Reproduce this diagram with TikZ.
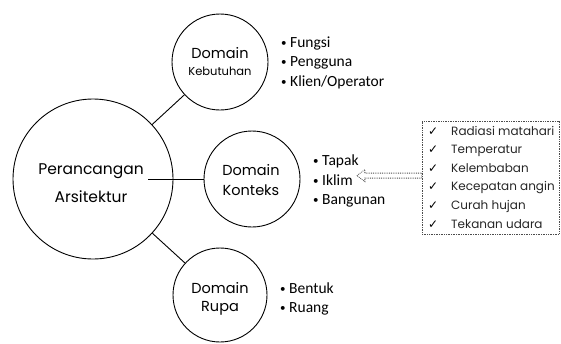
\documentclass[tikz,border=0pt]{standalone}
\usepackage{fontspec}
\setmainfont{Carlito}
\newfontfamily\hand{Poppins}
\newfontfamily\symf{DejaVu Sans}
\usetikzlibrary{calc}
\newcommand{\bul}{\makebox[9pt][l]{\raisebox{0.5pt}{\fontsize{11}{11}\selectfont •}}}
\begin{document}
\begin{tikzpicture}[x=1pt,y=-1pt,
  ring/.style={draw, circle, line width=0.9pt, inner sep=0pt},
  conn/.style={line width=0.9pt},
  htxt/.style={anchor=base, inner sep=0pt, font=\hand},
  btxt/.style={anchor=base west, inner sep=0pt, font=\fontsize{15.5}{18}\selectfont},
  ctxt/.style={anchor=base west, inner sep=0pt, font=\hand\fontsize{12}{14}\selectfont, text=black!85},
  cmark/.style={anchor=base west, inner sep=0pt, font=\symf\fontsize{12}{14}\selectfont},
  dotbox/.style={draw=black!70, densely dotted, line width=0.7pt},
]
\useasboundingbox (0,0) rectangle (561,343);
% circles
\node[ring, minimum size=160pt] (big) at (93,179) {};
\node[ring, minimum size=96pt] (keb) at (220,62) {};
\node[ring, minimum size=96pt] (kon) at (252,179) {};
\node[ring, minimum size=94pt] (rup) at (220,295) {};
% circle texts
\node[htxt, font=\hand\fontsize{15.5}{18}\selectfont] (t1) at (91,174) {Perancangan};
\node[htxt, font=\hand\fontsize{15.5}{18}\selectfont] (t2) at (91,202) {Arsitektur};
\node[htxt, font=\hand\fontsize{14.5}{17}\selectfont] (k1) at (220,58) {Domain};
\node[htxt, font=\hand\fontsize{11.5}{14}\selectfont] (k2) at (220,75) {Kebutuhan};
\node[htxt, font=\hand\fontsize{14.5}{17}\selectfont] (n1) at (251,175) {Domain};
\node[htxt, font=\hand\fontsize{14.5}{17}\selectfont] (n2) at (251,195) {Konteks};
\node[htxt, font=\hand\fontsize{14.5}{17}\selectfont] (r1) at (220,293) {Domain};
\node[htxt, font=\hand\fontsize{14.5}{17}\selectfont] (r2) at (220,311) {Rupa};
% connectors
\coordinate (kin) at (148,179);
\draw[conn] (big) -- (keb);
\draw[conn] (kin) -- (kon.west);
\draw[conn] (big) -- (rup);
% bullet lists
\node[btxt] (b1) at (281,47) {\bul Fungsi};
\node[btxt] (b2) at (281,66) {\bul Pengguna};
\node[btxt] (b3) at (281,86) {\bul Klien/Operator};
\node[btxt] (c1) at (313,165) {\bul Tapak};
\node[btxt] (iklim) at (313,185) {\bul Iklim};
\node[btxt] (c3) at (313,204) {\bul Bangunan};
\node[btxt] (d1) at (280,293) {\bul Bentuk};
\node[btxt] (d2) at (280,312) {\bul Ruang};
% checklist box
\node[dotbox, minimum width=137pt, minimum height=113pt, inner sep=0pt] (chk) at (490.5,177.5) {};
\foreach \i/\t in {0/Radiasi matahari,1/Temperatur,2/Kelembaban,3/Kecepatan angin,4/Curah hujan,5/Tekanan udara}{
  \node[cmark] (m\i) at (428,135+18.6*\i) {✓};
  \node[ctxt] (l\i) at (451,135+18.6*\i) {\t};
}
% hollow dotted arrow
\coordinate (atip) at ([xshift=4pt,yshift=4pt]iklim.east);
\coordinate (abase) at (chk.west |- atip);
\draw[draw=black!70, densely dotted, line width=0.8pt]
  (atip) -- ++(8,-6) -- ++(0,3.5) -- ($(abase)+(0,-2.5)$) -- ($(abase)+(0,2.5)$)
  -- ($(atip)+(8,2.5)$) -- ++(0,3.5) -- cycle;
\end{tikzpicture}
\end{document}
